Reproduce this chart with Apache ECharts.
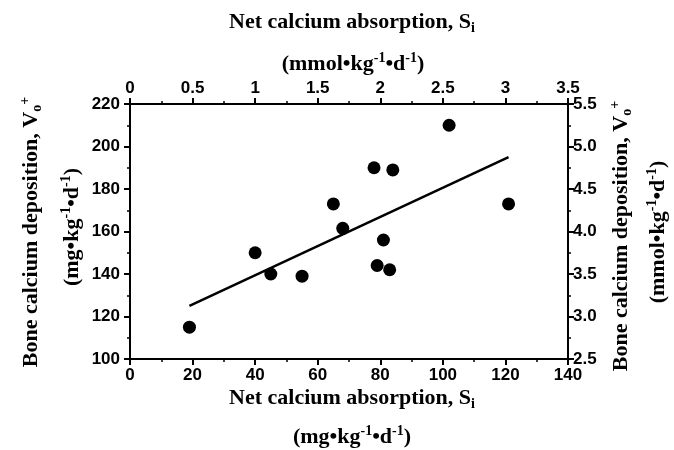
<!DOCTYPE html>
<html>
<head>
<meta charset="utf-8">
<script src="https://cdn.jsdelivr.net/npm/echarts@6/dist/echarts.min.js"></script>
<style>
  html, body { margin: 0; padding: 0; background: #fff; }
  #chart { width: 674px; height: 450px; }
</style>
</head>
<body>
<div id="chart"></div>
<script>
// 数据点 (mg/kg/d)
var absorption = [19, 40, 45, 55, 65, 68, 78, 79, 81, 83, 84, 102, 121];
var deposition = [115, 150, 140, 139, 173, 161.5, 190, 144, 156, 142, 189, 210, 173];
// 回归线端点
var fitX = [19, 121];
var fitY = [125, 195];
// 坐标轴刻度
var bottomTicks = [0, 140, 20];
var topTicks = [0, 3.5, 0.5];
var leftTicks = [100, 220, 20];
var rightTicks = [2.5, 5.5, 0.5];

var points = absorption.map(function (x, i) { return [x, deposition[i]]; });
var fitLine = fitX.map(function (x, i) { return [x, fitY[i]]; });

var tickFont = { color: '#000', fontFamily: 'Liberation Sans', fontWeight: 'bold', fontSize: 17 };
var serif = { fontFamily: 'Liberation Serif', fontWeight: 'bold', fill: '#000' };
var rich = {
    b: { fontFamily: 'Liberation Serif', fontWeight: 'bold', fontSize: 22, color: '#000', lineHeight: 26 },
    sub: { fontFamily: 'Liberation Serif', fontWeight: 'bold', fontSize: 14, color: '#000', verticalAlign: 'bottom', lineHeight: 26 },
    sup: { fontFamily: 'Liberation Serif', fontWeight: 'bold', fontSize: 14, color: '#000', verticalAlign: 'top', lineHeight: 26 }
};

function axisCommon(range, pos, labelMargin) {
    return {
        type: 'value',
        position: pos,
        min: range[0],
        max: range[1],
        interval: range[2],
        axisLine: { show: true, onZero: false, lineStyle: { color: '#000', width: 2 } },
        axisTick: { show: true, inside: false, length: 6, lineStyle: { color: '#000', width: 2 } },
        minorTick: { show: true, splitNumber: 2, length: 3, lineStyle: { color: '#000', width: 1.5 } },
        splitLine: { show: false },
        axisLabel: Object.assign({ margin: labelMargin }, tickFont)
    };
}

function label(text, x, y, rot) {
    return {
        type: 'text',
        x: x,
        y: y,
        rotation: rot || 0,
        style: Object.assign({ text: text, rich: rich, align: 'center', verticalAlign: 'middle' }, serif)
    };
}

var chart = echarts.init(document.getElementById('chart'));
var xBottom = axisCommon(bottomTicks, 'bottom', 8);
var xTop = axisCommon(topTicks, 'top', 7);
var yLeft = axisCommon(leftTicks, 'left', 10);
var yRight = axisCommon(rightTicks, 'right', 5);
yRight.axisLabel.formatter = function (v) { return v.toFixed(1); };

chart.setOption({
    backgroundColor: '#fff',
    animation: false,
    grid: { left: 130, right: 106, top: 104, bottom: 91 },
    xAxis: [xBottom, xTop],
    yAxis: [yLeft, yRight],
    series: [
        {
            type: 'scatter',
            data: points,
            symbol: 'circle',
            symbolSize: 13,
            itemStyle: { color: '#000', opacity: 1 }
        },
        {
            type: 'line',
            data: fitLine,
            symbol: 'none',
            lineStyle: { color: '#000', width: 2.5 }
        }
    ],
    graphic: [
        label('{b|Net calcium absorption, S}{sub|i}', 352, 22),
        label('{b|(mmol•kg}{sup|-1}{b|•d}{sup|-1}{b|)}', 353, 64),
        label('{b|Net calcium absorption, S}{sub|i}', 352, 398),
        label('{b|(mg•kg}{sup|-1}{b|•d}{sup|-1}{b|)}', 352, 437),
        label('{b|Bone calcium deposition, V}{sub|o}{sup|+}', 31, 232, Math.PI / 2),
        label('{b|(mg•kg}{sup|-1}{b|•d}{sup|-1}{b|)}', 72, 227, Math.PI / 2),
        label('{b|Bone calcium deposition, V}{sub|o}{sup|+}', 621, 236, Math.PI / 2),
        label('{b|(mmol•kg}{sup|-1}{b|•d}{sup|-1}{b|)}', 658, 232, Math.PI / 2)
    ]
});
</script>
</body>
</html>
